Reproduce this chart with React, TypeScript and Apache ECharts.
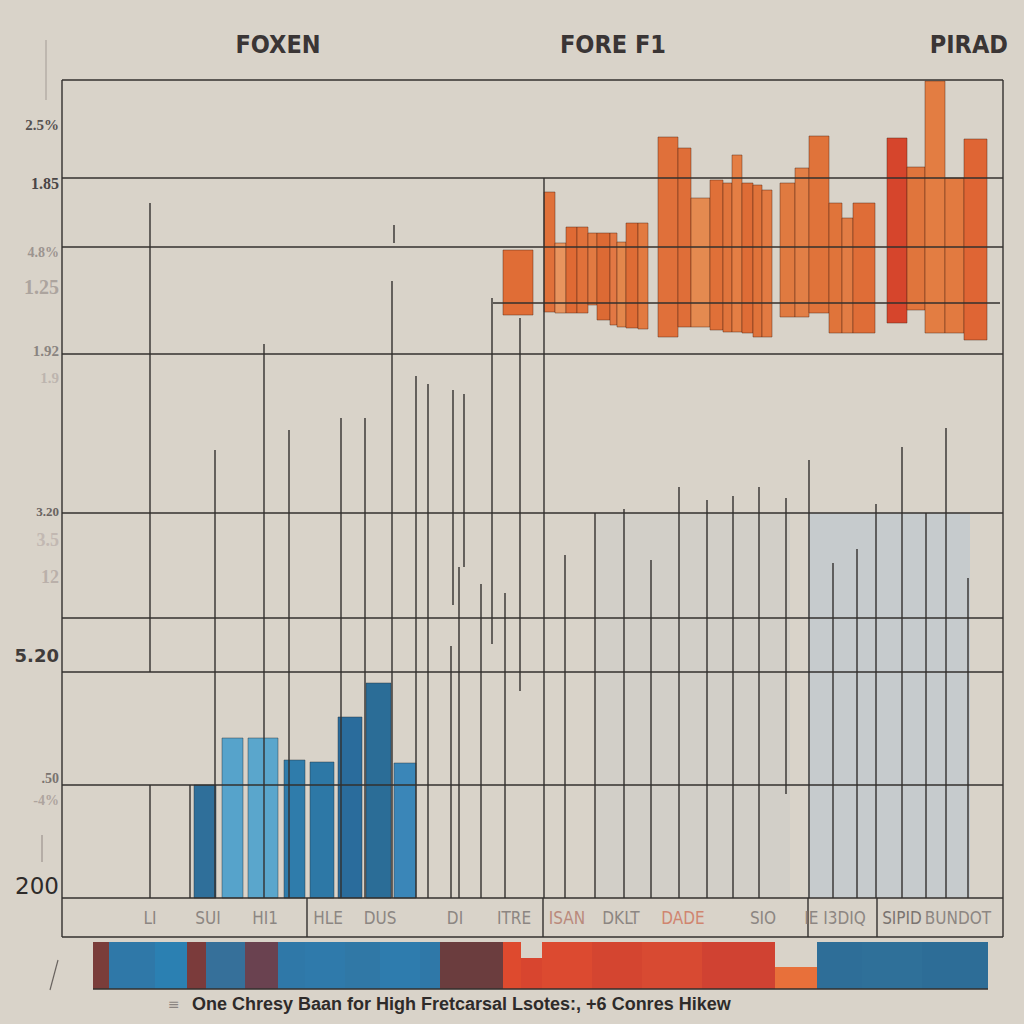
import React, { useEffect, useRef } from "react";
import * as echarts from "echarts";

// Units: x = horizontal position along the chart (0..941), y = level (0 = baseline of the main panel)

// Column headers
const headers = ["FOXEN", "FORE F1", "PIRAD"];
const headerPos = [278, 613, 1008];

// Category labels under the panel
const xLabelText = ["LI", "SUI", "HI1", "HLE", "DUS", "DI", "ITRE", "ISAN", "DKLT", "DADE", "SIO", "IE I3DIQ", "SIPID", "BUNDOT"];
const xLabelPos = [88, 146, 203, 266, 318, 393, 452, 505, 559, 621, 701, 773, 840, 896];
const xLabelColor = ["#8c8682", "#8c8682", "#8c8682", "#8c8682", "#8c8682", "#8c8682", "#8c8682", "#b98a7c", "#8c8682", "#d08570", "#8c8682", "#8c8682", "#7a7470", "#8c8682"];

// Y tick labels (left)
const yTickText = ["2.5%", "1.85", "4.8%", "1.25", "1.92", "1.9", "3.20", "3.5", "12", "5.20", ".50", "-4%", "200"];
const yTickLevel = [773, 715, 646, 611, 547, 520, 387, 358, 321, 243, 120, 98, 12];
const yTickColor = ["#555050", "#4a4646", "#9c9490", "#aca49e", "#8a8480", "#bdb5af", "#6a6462", "#c2b8b2", "#bab0aa", "#3f3b3a", "#7a7470", "#aea49e", "#2e2b2a"];
const yTickSize = [15, 16, 14, 20, 15, 15, 13, 18, 18, 18, 14, 14, 23];

// Blue bars: start, end, height
const blueStart = [132, 160, 186, 222, 248, 276, 304, 332];
const blueEnd = [154, 181, 216, 243, 272, 300, 329, 354];
const blueValue = [113, 160, 160, 138, 136, 181, 215, 135];
const blueColor = ["#2f6f9a", "#56a3cb", "#5aa6cc", "#2f7cab", "#2d78a6", "#2a6c9c", "#2b6d97", "#3a86b8"];

// Orange floating bars: start, end, high, low
const orangeStart = [441, 482, 493, 504, 515, 526, 535, 548, 555, 564, 576, 596, 616, 629, 648, 661, 670, 680, 691, 700, 718, 733, 747, 767, 780, 791, 825, 845, 863, 883, 902];
const orangeEnd = [471, 493, 504, 515, 526, 535, 548, 555, 564, 576, 586, 616, 629, 648, 661, 670, 680, 691, 700, 710, 733, 747, 767, 780, 791, 813, 845, 863, 883, 902, 925];
const orangeHigh = [648, 706, 655, 671, 671, 665, 665, 665, 656, 675, 675, 761, 750, 700, 718, 715, 743, 715, 713, 708, 715, 730, 762, 695, 680, 695, 760, 731, 817, 720, 759];
const orangeLow = [583, 586, 585, 585, 585, 593, 578, 573, 571, 570, 569, 561, 571, 571, 568, 566, 566, 565, 561, 561, 581, 581, 585, 565, 565, 565, 575, 588, 565, 565, 558];
const orangeColor = ["#e06d36", "#e0713a", "#e8945e", "#df6a34", "#e0713a", "#e27a42", "#dc6a34", "#e27844", "#e3874c", "#de6c35", "#e27a40", "#e0703a", "#df6e38", "#e48a50", "#e07038", "#e0743c", "#e47e44", "#de6c36", "#e0733a", "#e27a42", "#e07a40", "#e27f46", "#e0733a", "#e0743a", "#e27c44", "#df6d37", "#d6452c", "#e0753c", "#e37d42", "#e27a40", "#df6534"];

// Pale background blocks: start, end, height
const paleStart = [534, 746];
const paleEnd = [728, 908];
const paleValue = [385, 385];
const paleColor = ["rgba(186,194,198,0.2)", "rgba(176,192,210,0.45)"];

// Bottom band segments: start, end, top (bottom at -91)
const bandStart = [31, 47, 93, 125, 144, 183, 216, 243, 283, 318, 358, 378, 441, 459, 480, 530, 580, 640, 713, 755, 800, 860];
const bandEnd = [47, 93, 125, 144, 183, 216, 243, 283, 318, 358, 378, 441, 459, 480, 530, 580, 640, 713, 755, 800, 860, 926];
const bandTop = [-44, -44, -44, -44, -44, -44, -44, -44, -44, -44, -44, -44, -44, -60, -44, -44, -44, -44, -69, -44, -44, -44];
const bandColor = ["#7a3d3a", "#2f78a8", "#2b80b2", "#7b3b3b", "#36709a", "#6a4250", "#2f78a8", "#2f7aab", "#3078a6", "#2e7cae", "#2f78a8", "#6b3d3e", "#de4a2e", "#d8452f", "#dc4a30", "#d44530", "#d84a32", "#d04232", "#e8703a", "#2e6e98", "#2f7099", "#2d6d97"];

// Horizontal rules: start, end, level
const ruleStart = [0, 0, 0, 431, 0, 0, 0, 0, 0, 0, 0, 31];
const ruleEnd = [941, 941, 941, 938, 941, 941, 941, 941, 941, 941, 941, 926];
const ruleLevel = [818, 720, 651, 595, 544, 385, 280, 226, 113, 0, -39, -91];

// Vertical stems: position, low, high
const stemPos = [0, 941, 0, 245, 481, 746, 815, 941, 88, 88, 128, 153, 202, 227, 279, 303, 330, 332, 354, 366, 391, 389, 402, 397, 430, 458, 482, 419, 443, 503, 533, 562, 589, 617, 645, 671, 697, 724, 747, 771, 795, 814, 840, 864, 884, 906];
const stemLow = [0, 0, -39, -39, -39, -39, -39, -39, 226, 0, 0, 0, 0, 0, 0, 0, 0, 655, 0, 0, 293, 0, 331, 0, 254, 207, 0, 0, 0, 0, 0, 0, 0, 0, 0, 0, 0, 104, 0, 0, 0, 0, 0, 0, 0, 0];
const stemHigh = [818, 818, 0, 0, 0, 0, 0, 0, 695, 113, 113, 448, 554, 468, 480, 480, 617, 673, 522, 514, 508, 252, 504, 331, 600, 580, 720, 314, 305, 343, 385, 389, 338, 411, 398, 402, 411, 400, 438, 335, 349, 394, 451, 385, 470, 320];

const caption = "One Chresy Baan for High Fretcarsal Lsotes:, +6 Conres Hikew";

const rectSeries = (name: string, start: number[], end: number[], top: number[], bottom: number[], colors: string[], stroke: string | null, z: number) => ({
  type: "custom",
  name,
  z,
  data: start.map((s, i) => [s, end[i], top[i], bottom[i]]),
  renderItem: (params: any, api: any) => {
    const p0 = api.coord([api.value(0), api.value(2)]);
    const p1 = api.coord([api.value(1), api.value(3)]);
    return {
      type: "rect",
      shape: { x: p0[0], y: p0[1], width: p1[0] - p0[0], height: p1[1] - p0[1] },
      style: { fill: colors[params.dataIndex], stroke: stroke || undefined, lineWidth: stroke ? 1 : 0 },
    };
  },
});

export default function App() {
  const ref = useRef<HTMLDivElement>(null);
  useEffect(() => {
    if (!ref.current) return;
    const chart = echarts.init(ref.current, null, { renderer: "svg" });
    const lineColor = "#33302e";
    const graphics: any[] = [];
    headers.forEach((h, i) => {
      graphics.push({
        type: "text",
        x: headerPos[i],
        y: 44,
        style: {
          text: h,
          fill: "#3a3535",
          fontSize: 25,
          fontWeight: "bold",
          fontFamily: "'DejaVu Sans Condensed', 'Liberation Sans Narrow', sans-serif",
          align: i === 2 ? "right" : "center",
          verticalAlign: "middle",
        },
      });
    });
    yTickText.forEach((t, i) => {
      graphics.push({
        type: "text",
        x: 59,
        y: 898 - yTickLevel[i],
        style: {
          text: t,
          fill: yTickColor[i],
          fontSize: yTickSize[i],
          fontFamily: i === 12 || i === 9 ? "'DejaVu Sans', sans-serif" : "'Liberation Serif', serif",
          fontWeight: i === 12 ? "normal" : "bold",
          align: "right",
          verticalAlign: "middle",
        },
      });
    });
    graphics.push({ type: "line", shape: { x1: 46, y1: 40, x2: 46, y2: 100 }, style: { stroke: "#b5aea6", lineWidth: 1.5 } });
    graphics.push({ type: "line", shape: { x1: 42, y1: 835, x2: 42, y2: 862 }, style: { stroke: "#a8a19a", lineWidth: 1.5 } });
    graphics.push({ type: "line", shape: { x1: 50, y1: 990, x2: 58, y2: 960 }, style: { stroke: "#6a6460", lineWidth: 1.2 } });
    graphics.push({
      type: "text",
      x: 168,
      y: 1004,
      style: { text: "≡", fill: "#8a8480", fontSize: 14, fontFamily: "'DejaVu Sans', sans-serif", verticalAlign: "middle" },
    });
    graphics.push({
      type: "text",
      x: 192,
      y: 1004,
      style: {
        text: caption,
        fill: "#2e2b2a",
        fontSize: 18,
        fontWeight: "bold",
        fontFamily: "'Liberation Sans', Arial, sans-serif",
        verticalAlign: "middle",
      },
    });

    chart.setOption({
      animation: false,
      backgroundColor: "#d9d3c9",
      grid: { left: 62, right: 21, top: 80, bottom: 35 },
      xAxis: { type: "value", min: 0, max: 941, show: false },
      yAxis: { type: "value", min: -91, max: 818, show: false },
      graphic: graphics,
      series: [
        rectSeries("pale", paleStart, paleEnd, paleValue, paleValue.map(() => 0), paleColor, null, 1),
        rectSeries("band", bandStart, bandEnd, bandTop, bandTop.map(() => -91), bandColor, null, 2),
        rectSeries("blue", blueStart, blueEnd, blueValue, blueValue.map(() => 0), blueColor, "rgba(40,50,60,0.45)", 3),
        rectSeries("orange", orangeStart, orangeEnd, orangeHigh, orangeLow, orangeColor, "rgba(80,35,20,0.45)", 4),
        {
          type: "custom",
          name: "stems",
          z: 5,
          data: stemPos.map((p, i) => [p, stemLow[i], stemHigh[i]]),
          renderItem: (params: any, api: any) => {
            const a = api.coord([api.value(0), api.value(1)]);
            const b = api.coord([api.value(0), api.value(2)]);
            return { type: "line", shape: { x1: a[0], y1: a[1], x2: b[0], y2: b[1] }, style: { stroke: lineColor, lineWidth: 1.4 } };
          },
        },
        {
          type: "custom",
          name: "rules",
          z: 6,
          data: ruleStart.map((s, i) => [s, ruleEnd[i], ruleLevel[i]]),
          renderItem: (params: any, api: any) => {
            const a = api.coord([api.value(0), api.value(2)]);
            const b = api.coord([api.value(1), api.value(2)]);
            return { type: "line", shape: { x1: a[0], y1: a[1], x2: b[0], y2: b[1] }, style: { stroke: lineColor, lineWidth: 1.6 } };
          },
        },
        {
          type: "custom",
          name: "labels",
          z: 7,
          data: xLabelPos.map((p) => [p, -20]),
          renderItem: (params: any, api: any) => {
            const a = api.coord([api.value(0), api.value(1)]);
            return {
              type: "text",
              x: a[0],
              y: a[1],
              style: {
                text: xLabelText[params.dataIndex],
                fill: xLabelColor[params.dataIndex],
                fontSize: 17,
                fontFamily: "'Liberation Sans Narrow', 'DejaVu Sans Condensed', sans-serif",
                align: "center",
                verticalAlign: "middle",
              },
            };
          },
        },
      ],
    });
    return () => chart.dispose();
  }, []);
  return <div ref={ref} style={{ position: "fixed", left: 0, top: 0, width: 1024, height: 1024 }} />;
}
